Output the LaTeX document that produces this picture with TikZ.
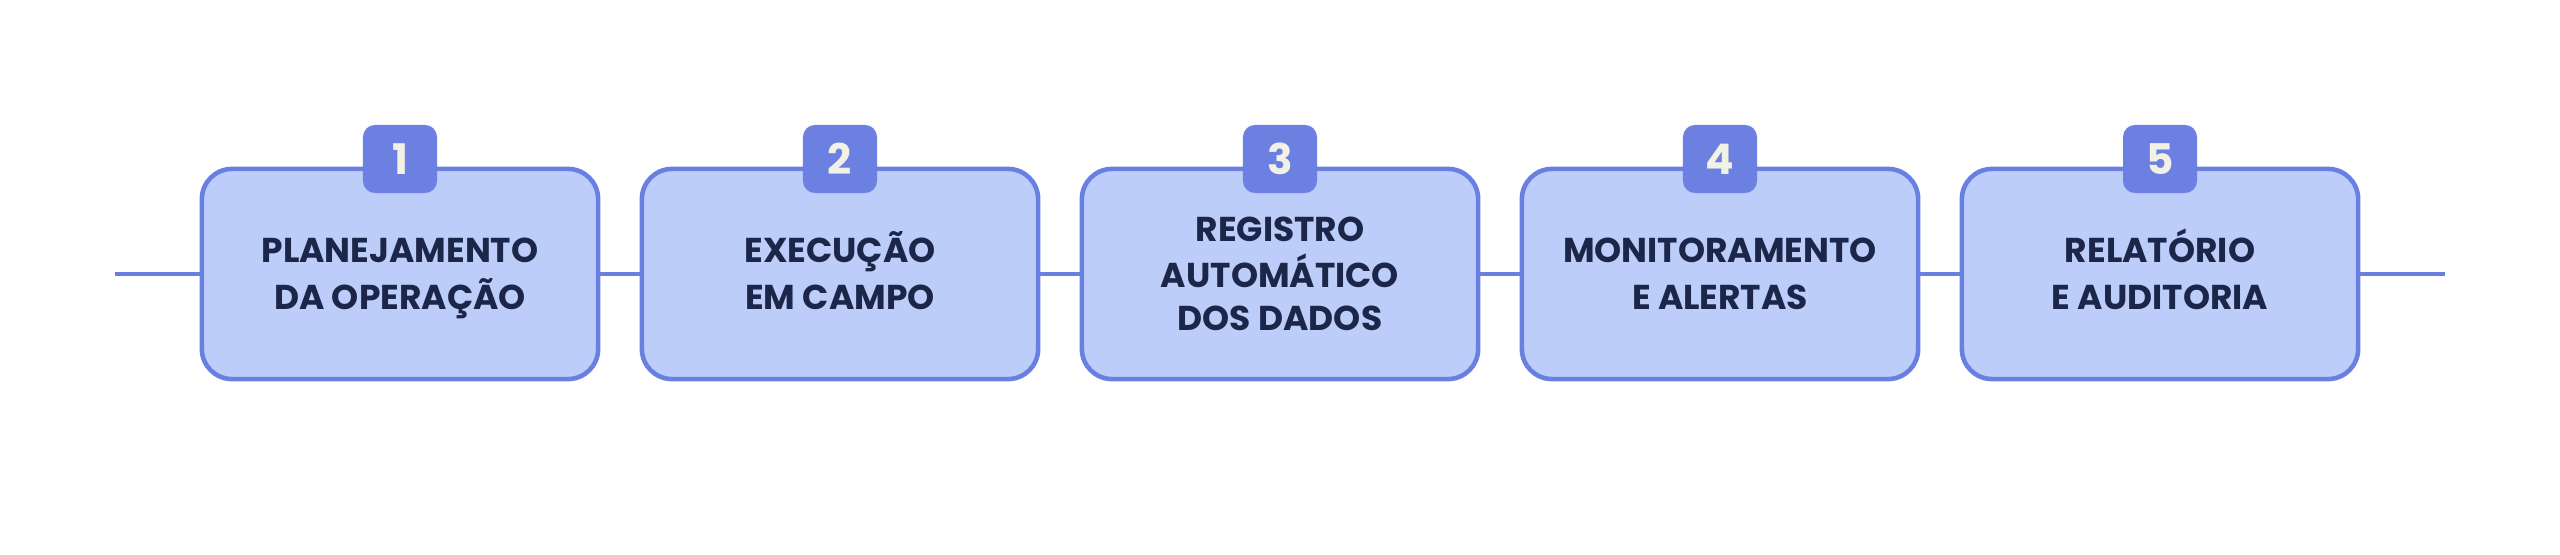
\documentclass[tikz,border=0pt]{standalone}
\usepackage{fontspec}
\setmainfont{Poppins}
\definecolor{edge}{HTML}{6A80E0}
\definecolor{boxfill}{HTML}{BDCDF9}
\definecolor{badgefill}{HTML}{6B80E0}
\definecolor{ink}{HTML}{1B2649}
\definecolor{cream}{HTML}{F1F1E6}
\newcommand\topline{\vphantom{ÓÇ}}
\newcommand\botline{\vphantom{ÓÇ}}
\begin{document}
\begin{tikzpicture}[x=0.01cm,y=-0.01cm,
  stepbox/.style={draw=edge, fill=boxfill, line width=1.3pt, rounded corners=0.3cm,
    minimum width=3.96cm, minimum height=2.1cm, align=center, inner sep=0pt,
    text=ink, font=\bfseries\fontsize{9.8}{12.2}\selectfont},
  badge/.style={fill=badgefill, rounded corners=0.12cm, minimum width=0.74cm,
    minimum height=0.68cm, inner sep=0pt, text=cream,
    font=\bfseries\fontsize{12}{12}\selectfont},
  link/.style={draw=edge, line width=1.2pt}]
\useasboundingbox (0,0) rectangle (2560,555);
\node[stepbox] (b1) at (400,274) {\topline PLANEJAMENTO\\\botline DA OPERAÇÃO};
\node[stepbox] (b2) at (840,274) {\topline EXECUÇÃO\\\botline EM CAMPO};
\node[stepbox] (b3) at (1280,274) {\topline REGISTRO\\AUTOMÁTICO\\\botline DOS DADOS};
\node[stepbox] (b4) at (1720,274) {\topline MONITORAMENTO\\\botline E ALERTAS};
\node[stepbox] (b5) at (2160,274) {\topline RELATÓRIO\\\botline E AUDITORIA};
\node[badge] (n1) at (400,159) {1};
\node[badge] (n2) at (840,159) {2};
\node[badge] (n3) at (1280,159) {3};
\node[badge] (n4) at (1720,159) {4};
\node[badge] (n5) at (2160,159) {5};
\coordinate (L) at (115,274);
\coordinate (R) at (2445,274);
\draw[link] (L) -- (b1.west);
\draw[link] (b1.east) -- (b2.west);
\draw[link] (b2.east) -- (b3.west);
\draw[link] (b3.east) -- (b4.west);
\draw[link] (b4.east) -- (b5.west);
\draw[link] (b5.east) -- (R);
\end{tikzpicture}
\end{document}
